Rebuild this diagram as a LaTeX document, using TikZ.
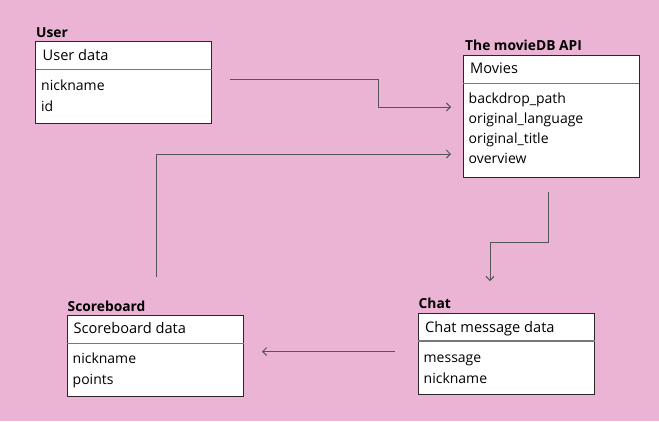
\documentclass[tikz,border=0pt]{standalone}
\usepackage{fontspec}
\setmainfont{Open Sans}
\usetikzlibrary{arrows.meta}
\definecolor{bgpink}{RGB}{235,180,212}
\definecolor{edgegray}{RGB}{40,40,40}
\definecolor{divgray}{RGB}{120,120,120}
\definecolor{linkgray}{RGB}{85,85,85}
\tikzset{
  box/.style={draw=edgegray, line width=0.9pt, fill=white, anchor=north west, inner sep=0pt, outer sep=0pt},
  divider/.style={draw=divgray, line width=1.6pt},
  txt/.style={anchor=base west, inner sep=0pt, font=\fontsize{14}{16}\selectfont},
  hdr/.style={anchor=base west, inner sep=0pt, font=\fontsize{14.6}{16}\selectfont},
  ttl/.style={anchor=base west, inner sep=0pt, font=\fontsize{13.8}{16}\selectfont\bfseries},
  link/.style={draw=linkgray, line width=0.9pt, -{Straight Barb[length=4pt,width=8pt]}},
}
\begin{document}
\begin{tikzpicture}[x=1pt,y=-1pt]
\fill[bgpink] (0,0) rectangle (659,421);
\useasboundingbox (0,0) rectangle (659,421);

% User
\node[box, minimum width=176pt, minimum height=82pt] (user) at (35.5,41) {};
\draw[divider] (35.5,69.3) -- (211.5,69.3);
\node[ttl] (userT) at (36,37.7) {User};
\node[hdr] (userH) at (42.5,60.5) {User data};
\node[txt] (userA) at (41,90) {nickname};
\node[txt] (userB) at (41,111.5) {id};

% Movies
\node[box, minimum width=176pt, minimum height=122.5pt] (movies) at (463.3,55) {};
\draw[divider] (463.3,83.3) -- (639.3,83.3);
\node[ttl] (moviesT) at (465,50) {The movieDB API};
\node[hdr] (moviesH) at (470,73.8) {Movies};
\node[txt] (moviesA) at (468.5,103.3) {backdrop\_path};
\node[txt] (moviesB) at (468.5,123.3) {original\_language};
\node[txt] (moviesC) at (468.5,143.3) {original\_title};
\node[txt] (moviesD) at (468.5,163.5) {overview};

% Scoreboard
\node[box, minimum width=176.5pt, minimum height=81pt] (score) at (67.3,315.7) {};
\draw[divider] (67.3,343.3) -- (243.8,343.3);
\node[ttl] (scoreT) at (67.5,311.7) {Scoreboard};
\node[hdr] (scoreH) at (73.5,333.8) {Scoreboard data};
\node[txt] (scoreA) at (72.5,363.5) {nickname};
\node[txt] (scoreB) at (72.5,384.5) {points};

% Chat
\node[box, minimum width=176.5pt, minimum height=81.5pt] (chat) at (418.3,313.3) {};
\draw[divider] (418.3,341) -- (594.8,341);
\node[ttl] (chatT) at (418.5,308.3) {Chat};
\node[hdr] (chatH) at (425,332.2) {Chat message data};
\node[txt] (chatA) at (423.5,362.5) {message};
\node[txt] (chatB) at (423.5,383) {nickname};

% connector end points
\coordinate (c1s) at (230,79);
\coordinate (c1e) at (451,107);
\coordinate (c2s) at (156,277);
\coordinate (c2e) at (451,154);
\coordinate (c3s) at (548,192);
\coordinate (c3e) at (490,281);
\coordinate (c4s) at (395,351.5);
\coordinate (c4e) at (262,351.5);

\draw[link] (c1s) -- (378,79) -- (378,107) -- (c1e);
\draw[link] (c2s) -- (156,154) -- (c2e);
\draw[link] (c3s) -- (548,242) -- (490,242) -- (c3e);
\draw[link] (c4s) -- (c4e);
\end{tikzpicture}
\end{document}
